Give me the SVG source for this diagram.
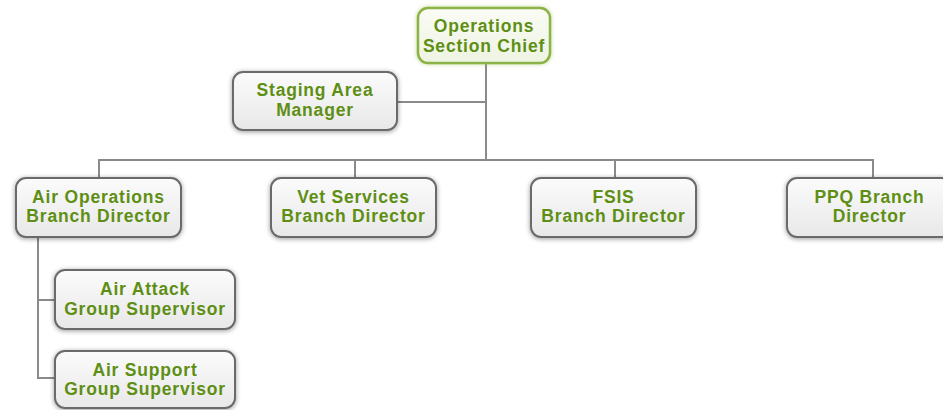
<svg xmlns="http://www.w3.org/2000/svg" width="943" height="410" viewBox="0 0 943 410">
<defs>
<linearGradient id="gfill" x1="0" y1="0" x2="0" y2="1">
<stop offset="0" stop-color="#fbfbfb"/>
<stop offset="1" stop-color="#e8e8e8"/>
</linearGradient>
<linearGradient id="gfillg" x1="0" y1="0" x2="0" y2="1">
<stop offset="0" stop-color="#fafcf5"/>
<stop offset="1" stop-color="#eef3e2"/>
</linearGradient>
<filter id="sh" x="-10%" y="-20%" width="120%" height="140%">
<feGaussianBlur in="SourceAlpha" stdDeviation="2.5"/>
<feOffset dx="0" dy="1"/>
<feComponentTransfer><feFuncA type="linear" slope="0.4"/></feComponentTransfer>
<feMerge><feMergeNode/><feMergeNode in="SourceGraphic"/></feMerge>
</filter>
<filter id="glow" x="-10%" y="-20%" width="120%" height="140%">
<feGaussianBlur in="SourceAlpha" stdDeviation="2.5"/>
<feFlood flood-color="#9fc25a" flood-opacity="0.6"/>
<feComposite operator="in" in2="SourceAlpha"/>
<feGaussianBlur stdDeviation="2"/>
<feMerge><feMergeNode/><feMergeNode in="SourceGraphic"/></feMerge>
</filter>
</defs>
<style>
.box{fill:url(#gfill);stroke:#6a6a6a;stroke-width:2;filter:url(#sh)}
.boxg{fill:url(#gfillg);stroke:#8cb346;stroke-width:2.5;filter:url(#glow)}
.t{font-family:"Liberation Sans",Arial,sans-serif;font-weight:bold;font-size:17.5px;letter-spacing:0.8px;fill:#5e8f14;text-anchor:middle}
.c{stroke:#8a8a8a;stroke-width:2;fill:none}
</style>
<rect width="943" height="410" fill="#ffffff"/>
<g id="connectors">
<line class="c" x1="486" y1="62" x2="486" y2="160"/>
<line class="c" x1="397" y1="102" x2="486" y2="102"/>
<line class="c" x1="98" y1="160" x2="874" y2="160"/>
<line class="c" x1="99" y1="160" x2="99" y2="178"/>
<line class="c" x1="355" y1="160" x2="355" y2="178"/>
<line class="c" x1="615" y1="160" x2="615" y2="178"/>
<line class="c" x1="873" y1="160" x2="873" y2="178"/>
<polyline class="c" points="38,237 38,378 55,378"/>
<line class="c" x1="38" y1="300" x2="55" y2="300"/>
</g>
<g id="ops">
<rect class="boxg" x="418" y="8" width="132" height="55" rx="10"/>
<text class="t" x="484" y="32">Operations</text>
<text class="t" x="484" y="51.5">Section Chief</text>
</g>
<g id="staging">
<rect class="box" x="233" y="72" width="164" height="58" rx="10"/>
<text class="t" x="315" y="96">Staging Area</text>
<text class="t" x="315" y="115.5">Manager</text>
</g>
<g id="airops">
<rect class="box" x="16" y="178" width="165" height="59" rx="10"/>
<text class="t" x="98.5" y="202.5">Air Operations</text>
<text class="t" x="98.5" y="222">Branch Director</text>
</g>
<g id="vet">
<rect class="box" x="271" y="178" width="165" height="59" rx="10"/>
<text class="t" x="353.5" y="202.5">Vet Services</text>
<text class="t" x="353.5" y="222">Branch Director</text>
</g>
<g id="fsis">
<rect class="box" x="531" y="178" width="165" height="59" rx="10"/>
<text class="t" x="613.5" y="202.5">FSIS</text>
<text class="t" x="613.5" y="222">Branch Director</text>
</g>
<g id="ppq">
<rect class="box" x="787" y="178" width="165" height="59" rx="10"/>
<text class="t" x="869.5" y="202.5">PPQ Branch</text>
<text class="t" x="869.5" y="222">Director</text>
</g>
<g id="airattack">
<rect class="box" x="55" y="270" width="180" height="59" rx="10"/>
<text class="t" x="145" y="295">Air Attack</text>
<text class="t" x="145" y="314.5">Group Supervisor</text>
</g>
<g id="airsupport">
<rect class="box" x="55" y="351" width="180" height="57" rx="10"/>
<text class="t" x="145" y="375.5">Air Support</text>
<text class="t" x="145" y="395">Group Supervisor</text>
</g>
</svg>
